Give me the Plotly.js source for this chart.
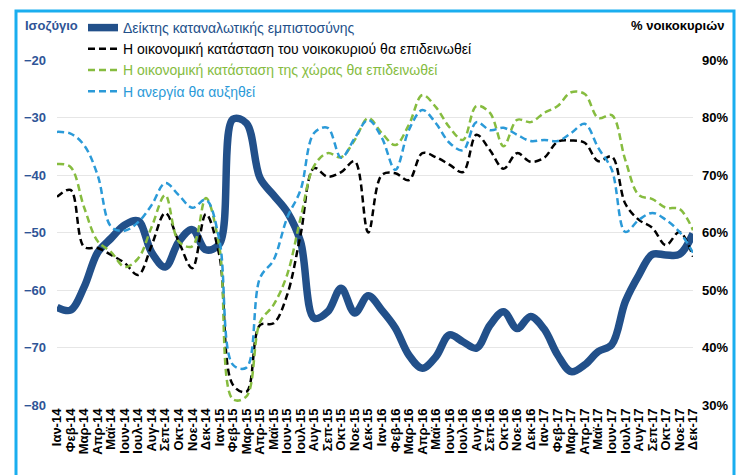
<!DOCTYPE html>
<html>
<head>
<meta charset="utf-8">
<script src="https://cdn.plot.ly/plotly-3.0.1.min.js"></script>
<style>
html,body{margin:0;padding:0;background:#fff;}
#chart{width:740px;height:475px;}
</style>
</head>
<body>
<div id="chart"></div>
<script>
// ---- data ----
const months = ["Ιαν-14","Φεβ-14","Μαρ-14","Απρ-14","Μαϊ-14","Ιουν-14","Ιουλ-14","Αυγ-14","Σεπ-14","Οκτ-14","Νοε-14","Δεκ-14",
"Ιαν-15","Φεβ-15","Μαρ-15","Απρ-15","Μαϊ-15","Ιουν-15","Ιουλ-15","Αυγ-15","Σεπ-15","Οκτ-15","Νοε-15","Δεκ-15",
"Ιαν-16","Φεβ-16","Μαρ-16","Απρ-16","Μαϊ-16","Ιουν-16","Ιουλ-16","Αυγ-16","Σεπ-16","Οκτ-16","Νοε-16","Δεκ-16",
"Ιαν-17","Φεβ-17","Μαρ-17","Απρ-17","Μαϊ-17","Ιουν-17","Ιουλ-17","Αυγ-17","Σεπ-17","Οκτ-17","Νοε-17","Δεκ-17"];

const confidence = [-63,-63.5,-59.5,-53.5,-51,-48.7,-48,-53.5,-56,-51.6,-49.5,-53,
-52,-30.3,-31,-40.5,-43.5,-46.4,-51.6,-64.9,-63.8,-59.7,-64,-61,
-63.5,-66.6,-71.3,-73.6,-71.6,-67.8,-69,-70.1,-66.1,-63.8,-66.7,-64.6,
-66.8,-71.3,-74.2,-73,-70.7,-69.5,-62,-57.4,-53.8,-53.9,-53.8,-50.2];

const householdWorse = [66.2,67.4,57.5,57.3,56.1,54.7,52.6,57.8,63.4,58.4,53.8,63.2,
56,33.5,32.3,43.9,44.2,49.1,59.6,71.2,69.7,70.5,72.4,60,
70,70.3,69.1,73.8,73.1,71.8,70.5,77,74.3,71.1,73.8,72.3,
73,75.8,76,75.6,72.4,73.2,65,62.2,60.8,57.8,60.1,55.8];

const countryWorse = [71.9,71.4,64.4,58.5,56.6,54,55.5,61,66.5,58.4,57.6,66,
57.5,31,31.5,44.4,47.4,52.6,62.5,71.6,73.8,73.1,76.1,79.9,
77.3,75.2,78.7,83.9,81.8,78.3,76.1,82,80.8,75,79.6,79.2,
80.8,82,84.4,84.1,79.9,80.4,72.6,66.5,65.8,64.3,64.1,60.4];

const unemploymentUp = [77.5,77.2,75.2,70,61,60.3,61.8,64.8,68.6,66.5,64.3,65.7,
58.7,37,36.5,52.1,55.2,62.5,67.4,77.3,78.2,73,76.4,79.6,
76.5,70.9,77.8,81.3,79,75.6,74.3,79.2,77.8,78.2,77,75.9,
76.1,75.9,77.3,78.9,74.7,70.9,60.1,62.2,63.4,62.2,60.1,56.5];

const leftTicks = [-80,-70,-60,-50,-40,-30,-20];
const rightTicks = [30,40,50,60,70,80,90];
const rightTickLabels = ["30%","40%","50%","60%","70%","80%","90%"];

const names = ["Δείκτης καταναλωτικής εμπιστοσύνης",
"Η οικονομική κατάσταση του νοικοκυριού θα επιδεινωθεί",
"Η οικονομική κατάσταση της χώρας θα επιδεινωθεί",
"Η ανεργία θα αυξηθεί"];

// ---- styling ----
const navy = "#22508A";
const green = "#86BC3F";
const sky = "#2B9AD8";
const font = "Arial, 'Liberation Sans', sans-serif";
const W = 740, H = 475;
const M = {l:57, r:47, t:60, b:70};
const pw = W - M.l - M.r, ph = H - M.t - M.b;
const px = v => (v - M.l) / pw;
const py = v => (H - M.b - v) / ph;

const traces = [
  {x: months, y: confidence, name: '<span style="color:'+navy+'">'+names[0]+'</span>', type:'scatter', mode:'lines',
   line:{color:navy, width:7.5, shape:'spline', smoothing:1}, yaxis:'y'},
  {x: months, y: householdWorse, name: '<span style="color:#000">'+names[1]+'</span>', type:'scatter', mode:'lines',
   line:{color:'#000', width:2.5, dash:'7px,4px', shape:'spline', smoothing:1}, yaxis:'y2'},
  {x: months, y: countryWorse, name: '<span style="color:'+green+'">'+names[2]+'</span>', type:'scatter', mode:'lines',
   line:{color:green, width:2.5, dash:'7px,4px', shape:'spline', smoothing:1}, yaxis:'y2'},
  {x: months, y: unemploymentUp, name: '<span style="color:'+sky+'">'+names[3]+'</span>', type:'scatter', mode:'lines',
   line:{color:sky, width:2.5, dash:'7px,4px', shape:'spline', smoothing:1}, yaxis:'y2'}
];

const layout = {
  width: W, height: H,
  margin: M,
  paper_bgcolor:'#fff', plot_bgcolor:'#fff',
  font:{family:font, size:13, color:'#000'},
  showlegend:true,
  legend:{x:px(83), xanchor:'left', y:py(12), yanchor:'top', bgcolor:'rgba(0,0,0,0)',
          font:{family:font, size:14}, tracegroupgap:0, itemwidth:30},
  xaxis:{type:'category', tickangle:-90, dtick:1, showgrid:false, zeroline:false, showline:false,
         ticks:'', tickfont:{family:font, size:13, weight:'bold', color:'#000'}, fixedrange:true},
  yaxis:{range:[-80,-20], tickvals:leftTicks, showgrid:true, gridcolor:'#E6E6E6', gridwidth:1,
         zeroline:false, showline:false, ticks:'', ticklabelstandoff:10,
         tickfont:{family:font, size:13, weight:'bold', color:'#2F5597'}},
  yaxis2:{range:[30,90], tickvals:rightTicks, ticktext:rightTickLabels, overlaying:'y', side:'right',
          showgrid:false, zeroline:false, showline:false, ticks:'', ticklabelstandoff:8,
          tickfont:{family:font, size:13, weight:'bold', color:'#000'}},
  annotations:[
    {text:'<b>Ισοζύγιο</b>', xref:'paper', yref:'paper', x:px(23), y:py(25), xanchor:'left', yanchor:'middle',
     showarrow:false, font:{family:font, size:13, color:'#2F5597'}},
    {text:'<b>% νοικοκυριών</b>', xref:'paper', yref:'paper', x:px(726), y:py(25), xanchor:'right', yanchor:'middle',
     showarrow:false, font:{family:font, size:13, color:'#000'}}
  ],
  shapes:[
    {type:'rect', xref:'paper', yref:'paper', x0:px(16), x1:px(734), y0:py(11), y1:py(490),
     line:{color:'#1AAEEF', width:3}, fillcolor:'rgba(0,0,0,0)', layer:'above'}
  ]
};

Plotly.newPlot('chart', traces, layout, {displayModeBar:false, staticPlot:true});
</script>
</body>
</html>
